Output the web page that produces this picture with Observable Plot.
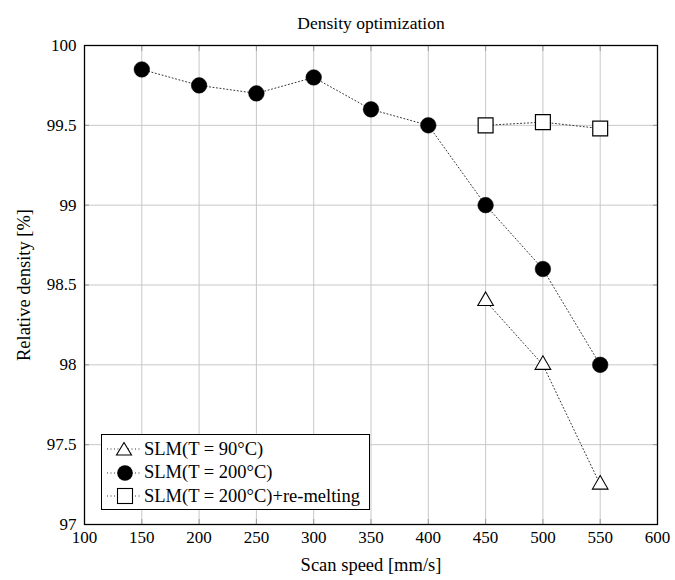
<!DOCTYPE html>
<html><head><meta charset="utf-8">
<script src="https://cdn.jsdelivr.net/npm/d3@7"></script>
<script src="https://cdn.jsdelivr.net/npm/@observablehq/plot@0.6"></script>
<style>
body{margin:0;background:#fff;}
#wrap{position:relative;width:675px;height:580px;font-family:'Liberation Serif';}
#legend{position:absolute;left:101px;top:434px;width:269px;height:76px;border:1px solid #000;background:#fff;box-sizing:border-box;font-size:18.5px;font-family:'Liberation Serif';}
#legend .row{position:absolute;left:4px;height:24px;display:flex;align-items:center;white-space:nowrap;}
#legend svg{margin-right:2px;}
</style></head>
<body><div id="wrap"></div>
<script>
const speedsHot = [150, 200, 250, 300, 350, 400, 450, 500, 550];
const densityHot = [99.85, 99.75, 99.7, 99.8, 99.6, 99.5, 99.0, 98.6, 98.0];
const speedsCold = [450, 500, 550];
const densityCold = [98.4, 98.0, 97.25];
const speedsRemelt = [450, 500, 550];
const densityRemelt = [99.5, 99.52, 99.48];
const xTicks = [100, 150, 200, 250, 300, 350, 400, 450, 500, 550, 600];
const yTicks = [97, 97.5, 98, 98.5, 99, 99.5, 100];
const seriesNames = ["SLM(T = 90°C)", "SLM(T = 200°C)", "SLM(T = 200°C)+re-melting"];

const hot = speedsHot.map((x,i)=>({x, y: densityHot[i]}));
const cold = speedsCold.map((x,i)=>({x, y: densityCold[i]}));
const remelt = speedsRemelt.map((x,i)=>({x, y: densityRemelt[i]}));

const lineStyle = {x:"x", y:"y", stroke:"#333", strokeWidth:1, strokeDasharray:"1,2.5"};
const font = "Liberation Serif";

const chart = Plot.plot({
  width: 675, height: 580,
  marginLeft: 84, marginRight: 18, marginTop: 45, marginBottom: 56,
  style: {fontFamily: font, fontSize: "17px", background: "#fff", color: "#000"},
  x: {domain: [100, 600], ticks: xTicks},
  y: {domain: [97, 100], ticks: yTicks},
  marks: [
    Plot.gridX(xTicks, {stroke:"#c8c8c8", strokeOpacity:1, strokeWidth:1}),
    Plot.gridY(yTicks, {stroke:"#c8c8c8", strokeOpacity:1, strokeWidth:1}),
    Plot.axisX(xTicks, {anchor:"bottom", tickSize:-5, tickPadding:11, stroke:"#999", tickFormat:d=>String(d), fontSize:17, fontFamily:font, label:"Scan speed [mm/s]", labelAnchor:"center", labelArrow:"none", labelOffset:46}),
    Plot.axisX(xTicks, {anchor:"top", tickSize:-5, stroke:"#999", tickFormat:()=>"", label:null}),
    Plot.axisY(yTicks, {anchor:"left", tickSize:-5, tickPadding:13, stroke:"#999", tickFormat:d=>String(d), fontSize:17, fontFamily:font, label:"Relative density [%]", labelAnchor:"center", labelArrow:"none", labelOffset:68}),
    Plot.axisY(yTicks, {anchor:"right", tickSize:-5, stroke:"#999", tickFormat:()=>"", label:null}),
    Plot.frame({stroke:"#000", strokeWidth:1.3}),
    Plot.line(hot, lineStyle),
    Plot.line(cold, lineStyle),
    Plot.line(remelt, lineStyle),
    Plot.dot(hot, {x:"x", y:"y", r:7.8, fill:"#000", stroke:"#000", strokeWidth:0.5}),
    Plot.dot(cold, {x:"x", y:"y", symbol:"triangle", r:5.8, fill:"#fff", stroke:"#000", strokeWidth:1.1}),
    Plot.dot(remelt, {x:"x", y:"y", symbol:"square", r:8.4, fill:"#fff", stroke:"#000", strokeWidth:1.2}),
    Plot.text(["Density optimization"], {frameAnchor:"top", dy:-29, fontSize:17.5, fontFamily:font})
  ]
});
d3.select(chart).selectAll("text").style("font-family", "'Liberation Serif'");
d3.select(chart).selectAll("[aria-label='x-axis label'] text, [aria-label='y-axis label'] text").style("font-size", "18.5px");
document.getElementById("wrap").appendChild(chart);

// legend
const lg = document.createElement("div");
lg.id = "legend";
const syms = ["triangle","circle","square"];
seriesNames.forEach((name,i)=>{
  const row = document.createElement("div");
  row.className = "row";
  row.style.top = (2 + i*23.5) + "px";
  let shape;
  if (syms[i]==="triangle") shape = '<path d="M18,5.5 L25.5,18 L10.5,18 Z" fill="#fff" stroke="#000" stroke-width="1.1"/>';
  else if (syms[i]==="circle") shape = '<circle cx="19" cy="12" r="7.8" fill="#000"/>';
  else shape = '<rect x="11.5" y="4.5" width="15" height="15" fill="#fff" stroke="#000" stroke-width="1.1"/>';
  row.innerHTML = '<svg width="36" height="24"><line x1="1" y1="12" x2="35" y2="12" stroke="#333" stroke-dasharray="1,2.5"/>' + shape + '</svg><span>' + name + '</span>';
  lg.appendChild(row);
});
document.getElementById("wrap").appendChild(lg);
</script></body></html>
